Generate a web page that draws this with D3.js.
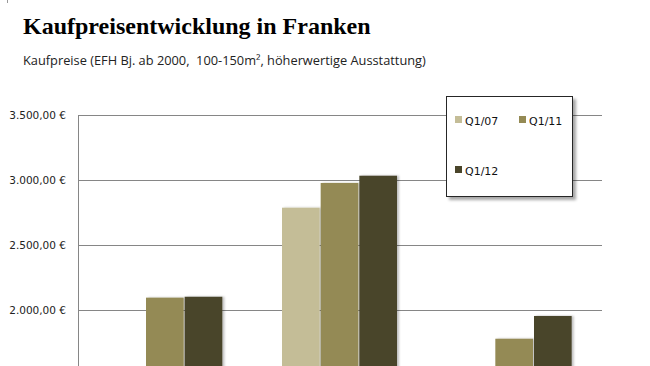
<!DOCTYPE html>
<html>
<head>
<meta charset="utf-8">
<script src="https://cdn.jsdelivr.net/npm/d3@7"></script>
<style>
  body { margin: 0; background: #fff; }
  svg { display: block; }
  text { white-space: pre; }
</style>
</head>
<body>
<div id="chart"></div>
<script>
var width = 650,
    height = 366;

// data
var categories = ["Gruppe 1", "Gruppe 2", "Gruppe 3"];
var series = ["Q1/07", "Q1/11", "Q1/12"];
var valuesQ107 = [null, 2787, null];
var valuesQ111 = [2095, 2977, 1779];
var valuesQ112 = [2102, 3033, 1954];
var yTicks = [2000, 2500, 3000, 3500];
var colors = ["#c4bd97", "#948a54", "#4a452a"];

var values = [valuesQ107, valuesQ111, valuesQ112];

var svg = d3.select("#chart")
    .append("svg")
    .attr("width", width)
    .attr("height", height);

var defs = svg.append("defs");
defs.append("filter")
    .attr("id", "barShadow")
    .attr("x", "-20%").attr("y", "-20%").attr("width", "140%").attr("height", "140%")
    .append("feDropShadow")
    .attr("dx", 2).attr("dy", 0).attr("stdDeviation", 1.2)
    .attr("flood-color", "#000").attr("flood-opacity", 0.25);
defs.append("filter")
    .attr("id", "boxShadow")
    .attr("x", "-10%").attr("y", "-10%").attr("width", "130%").attr("height", "130%")
    .append("feDropShadow")
    .attr("dx", 3).attr("dy", 3).attr("stdDeviation", 1.6)
    .attr("flood-color", "#000").attr("flood-opacity", 0.35);

var plot = { left: 78, right: 602, top: 115 };

var y = d3.scaleLinear()
    .domain([1500, 3500])
    .range([375, plot.top]);

var x = d3.scaleBand()
    .domain(categories)
    .range([plot.left, plot.right])
    .padding(0);

var groupWidth = 116;
var xSub = d3.scaleBand()
    .domain(series)
    .range([x.bandwidth() / 2 - groupWidth / 2, x.bandwidth() / 2 + groupWidth / 2]);

// little mark top left
svg.append("line")
    .attr("x1", 7.5).attr("x2", 7.5)
    .attr("y1", 0).attr("y2", 3)
    .attr("stroke", "#999");

// title
svg.append("text")
    .attr("x", 23)
    .attr("y", 34)
    .attr("font-family", "'Liberation Serif', 'Times New Roman', serif")
    .attr("font-weight", "bold")
    .attr("font-size", 24)
    .attr("fill", "#000")
    .text("Kaufpreisentwicklung in Franken");

svg.append("text")
    .attr("x", 23)
    .attr("y", 65)
    .attr("font-family", "'Open Sans', sans-serif")
    .attr("font-size", 12.8)
    .attr("fill", "#222")
    .text("Kaufpreise (EFH Bj. ab 2000,  100-150m², höherwertige Ausstattung)");

// grid
svg.append("g")
    .selectAll("line")
    .data(yTicks)
    .enter().append("line")
    .attr("x1", plot.left)
    .attr("x2", plot.right)
    .attr("y1", function (d) { return Math.round(y(d)) + 0.5; })
    .attr("y2", function (d) { return Math.round(y(d)) + 0.5; })
    .attr("stroke", "#868686");

var fmt = d3.formatLocale({ decimal: ",", thousands: ".", grouping: [3], currency: ["", " €"] }).format("$,.2f");

svg.append("g")
    .selectAll("text")
    .data(yTicks)
    .enter().append("text")
    .attr("x", 66)
    .attr("y", function (d) { return Math.round(y(d)) + 4; })
    .attr("text-anchor", "end")
    .attr("font-family", "'DejaVu Sans', sans-serif")
    .attr("font-size", 10.5)
    .attr("fill", "#222")
    .text(function (d) { return fmt(d); });

svg.append("line")
    .attr("x1", plot.left + 0.5).attr("x2", plot.left + 0.5)
    .attr("y1", y(3500)).attr("y2", height)
    .attr("stroke", "#868686");

// bars
var groups = svg.append("g")
    .selectAll("g")
    .data(categories)
    .enter().append("g")
    .attr("transform", function (d) { return "translate(" + x(d) + ",0)"; });

groups.selectAll("rect")
    .data(function (d, ci) {
        return series.map(function (s, si) {
            return { s: s, i: si, v: values[si][ci] };
        }).filter(function (e) { return e.v != null; });
    })
    .enter().append("rect")
    .attr("x", function (d) { return xSub(d.s); })
    .attr("width", xSub.bandwidth() - 1)
    .attr("y", function (d) { return y(d.v); })
    .attr("height", function (d) { return y.range()[0] - y(d.v); })
    .attr("fill", function (d) { return colors[d.i]; })
    .attr("filter", "url(#barShadow)");

// legend
var legend = svg.append("g").attr("transform", "translate(446,96)");
legend.append("rect")
    .attr("x", 0.5).attr("y", 0.5)
    .attr("width", 126).attr("height", 100)
    .attr("fill", "#fff")
    .attr("stroke", "#262626")
    .attr("filter", "url(#boxShadow)");

var item = legend.selectAll("g.item")
    .data(series)
    .enter().append("g")
    .attr("class", "item")
    .attr("transform", function (d, i) {
        return "translate(" + (9 + (i % 2) * 64) + "," + (20 + Math.floor(i / 2) * 50) + ")";
    });

item.append("rect")
    .attr("width", 7).attr("height", 7)
    .attr("fill", function (d, i) { return colors[i]; });

item.append("text")
    .attr("x", 10)
    .attr("y", 9)
    .attr("font-family", "'DejaVu Sans', sans-serif")
    .attr("font-size", 11)
    .attr("fill", "#111")
    .text(function (d) { return d; });
</script>
</body>
</html>
